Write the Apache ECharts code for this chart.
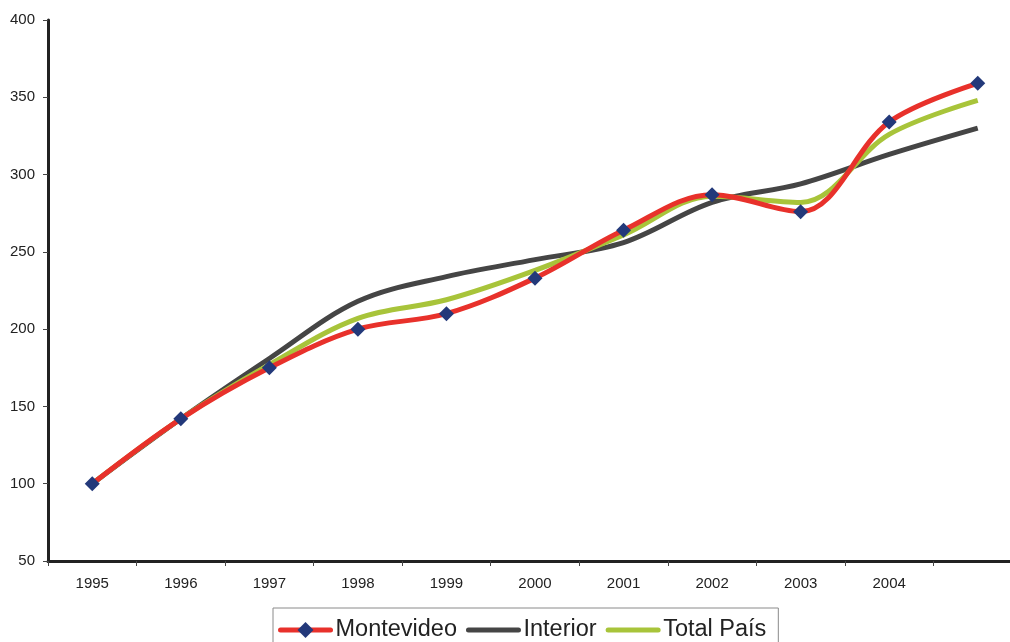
<!DOCTYPE html>
<html>
<head>
<meta charset="utf-8">
<script src="https://cdn.jsdelivr.net/npm/echarts@6/dist/echarts.min.js"></script>
<style>
  html, body { margin: 0; padding: 0; background: #fff; }
  #main { width: 1010px; height: 642px; }
</style>
</head>
<body>
<div id="main"></div>
<script>
// categorias (el último año no lleva etiqueta)
var years = ['1995', '1996', '1997', '1998', '1999', '2000', '2001', '2002', '2003', '2004', ''];
var montevideo = [100, 142, 175, 200, 210, 233, 264, 287, 276, 334, 359];
var interior = [100, 142, 181, 218, 234, 245, 256, 282, 294, 313, 330];
var totalPais = [100, 142, 177, 207, 219, 238, 261, 286, 282, 326, 348];
var yTicks = { min: 50, max: 400, interval: 50 };

var myChart = echarts.init(document.getElementById('main'));
var font = 'Liberation Sans, Arial, sans-serif';

var option = {
  animation: false,
  backgroundColor: '#fff',
  textStyle: { fontFamily: font },
  grid: {
    top: 20,
    left: 48,
    right: -12, // el eje sigue un poco fuera del cuadro
    bottom: 81,
    containLabel: false,
    outerBoundsMode: 'none',
  },
  legend: {
    left: 273,
    top: 608,
    padding: [10, 12, 20, 5],
    itemGap: 9,
    itemWidth: 50,
    itemHeight: 20,
    borderColor: '#8a8a8a',
    borderWidth: 1,
    lineStyle: { width: 5, cap: 'round' },
    textStyle: { fontSize: 23.5, color: '#222', fontFamily: font },
    data: [
      { name: 'Montevideo' },
      { name: 'Interior', itemStyle: { opacity: 0 } },
      { name: 'Total País', itemStyle: { opacity: 0 } },
    ],
  },
  xAxis: {
    type: 'category',
    boundaryGap: true,
    data: years,
    axisLine: { lineStyle: { color: '#222', width: 3 } },
    axisTick: { show: true, length: 5, lineStyle: { color: '#444', width: 1 } },
    axisLabel: { margin: 15, fontSize: 15, color: '#222' },
  },
  yAxis: {
    type: 'value',
    min: yTicks.min,
    max: yTicks.max,
    interval: yTicks.interval,
    splitLine: { show: false },
    axisLine: { show: true, lineStyle: { color: '#222', width: 3 } },
    axisTick: { show: true, length: 5, lineStyle: { color: '#444', width: 1 } },
    axisLabel: { margin: 13, fontSize: 15, color: '#222' },
  },
  series: [
    {
      name: 'Montevideo',
      type: 'line',
      data: montevideo,
      smooth: 0.35,
      symbol: 'diamond',
      symbolSize: 15,
      itemStyle: { color: '#23397a' },
      lineStyle: { color: '#e8312b', width: 5 },
      z: 3,
    },
    {
      name: 'Interior',
      type: 'line',
      data: interior,
      smooth: 0.35,
      symbol: 'none',
      itemStyle: { color: '#454545' },
      lineStyle: { color: '#454545', width: 5 },
      z: 2,
    },
    {
      name: 'Total País',
      type: 'line',
      data: totalPais,
      smooth: 0.35,
      symbol: 'none',
      itemStyle: { color: '#a8c43a' },
      lineStyle: { color: '#a8c43a', width: 5 },
      z: 2,
    },
  ],
};

myChart.setOption(option);
</script>
</body>
</html>
